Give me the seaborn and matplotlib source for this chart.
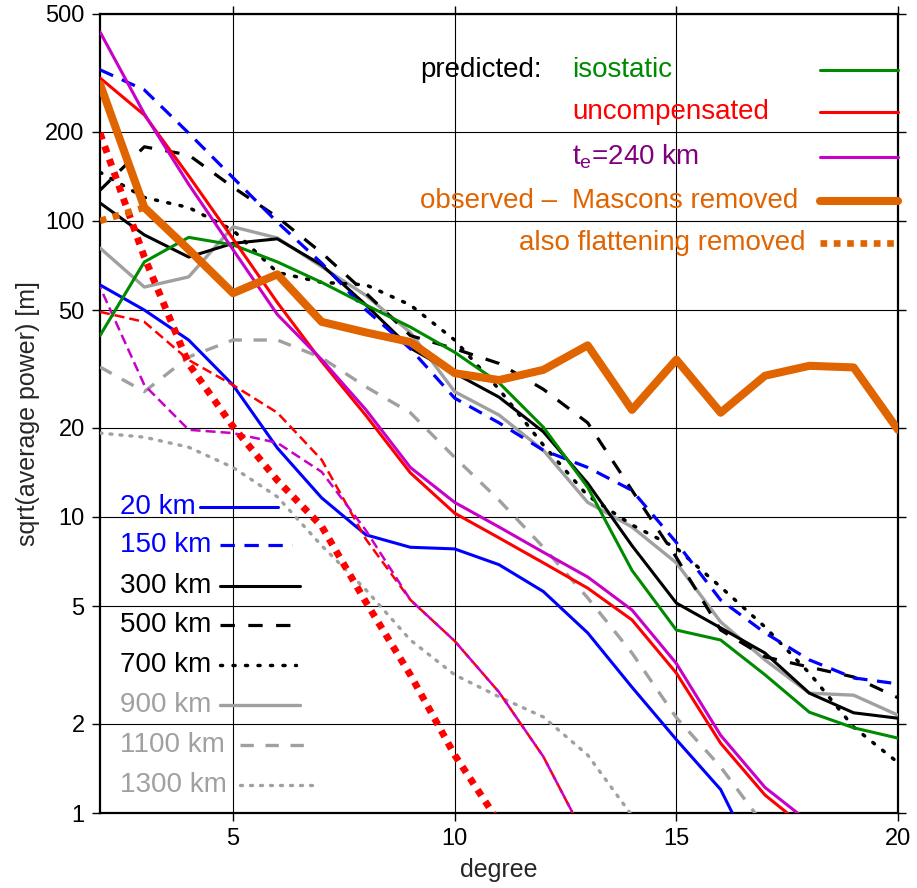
import numpy as np
import pandas as pd
import matplotlib.pyplot as plt
from matplotlib.lines import Line2D
from matplotlib.ticker import FixedLocator, NullLocator, FixedFormatter
import seaborn as sns

nan = np.nan
degree = list(range(2, 21))

# predicted, loading at depth (km)
blue_20 = [60.8, 50, 39.6, 27.9, 17.1, 11.6, 8.7, 7.9, 7.8, 6.9, 5.6, 4.06, 2.66, 1.77, 1.2, 0.6, nan, nan, nan]
blue_150 = [324, 277, 198, 140, 99, 72, 50, 37, 25.2, 20.8, 16.8, 14.7, 12.3, 8.2, 5.24, 4.06, 3.29, 2.86, 2.73]
black_300 = [115, 89.7, 75.5, 84, 87, 71, 52, 37.2, 30.6, 25.4, 19.4, 13, 8.0, 5.12, 4.22, 3.47, 2.54, 2.18, 2.09]
black_500 = [127, 178, 167, 130, 103, 78, 57, 41, 37, 33, 27, 20.8, 12.3, 7.3, 4.15, 3.37, 3.11, 2.88, 2.45]
black_700 = [146, 120, 111, 93, 67, 62, 60.8, 52, 39.6, 27, 17.5, 11.8, 9.4, 7.85, 5.8, 4.25, 2.97, 1.95, 1.48]
gray_900 = [81, 59.8, 64.7, 95.5, 87.6, 70, 56, 42, 26.5, 22.1, 16.8, 11.2, 9.25, 7.0, 4.42, 3.29, 2.54, 2.5, 2.14]
gray_1100 = [32.1, 26.5, 34.7, 39.6, 39.6, 34.5, 27.5, 22.5, 15.9, 11.4, 7.9, 5.33, 3.47, 2.1, 1.43, 0.9, nan, nan, nan]
gray_1300 = [19.2, 18.6, 17.2, 14.7, 11.7, 8.0, 5.67, 3.84, 2.93, 2.47, 2.11, 1.57, 0.98, 0.6, nan, nan, nan, nan, nan]

# predicted, compensation models
isostatic = [41, 72.7, 88, 83, 72.7, 62, 52, 43.8, 36, 28.4, 20.1, 12.6, 6.6, 4.15, 3.84, 2.93, 2.19, 1.94, 1.79]
uncompensated = [304, 228, 142, 87, 53, 33.5, 22, 14.1, 10.3, 8.5, 7.0, 5.75, 4.49, 2.97, 1.72, 1.15, 0.87, nan, nan]
te_240 = [435, 230, 133, 80, 48.3, 34, 23, 14.7, 11.2, 9.25, 7.6, 6.27, 4.85, 3.2, 1.83, 1.22, 0.93, nan, nan]
red_dashed = [49.3, 45.6, 33.9, 27.9, 22.5, 15.6, 8.4, 5.25, 3.81, 2.56, 1.55, 0.8, nan, nan, nan, nan, nan, nan, nan]
magenta_dashed = [59.8, 27.9, 19.7, 19.2, 17.8, 14.2, 9.0, 5.25, 3.81, 2.56, 1.55, 0.8, nan, nan, nan, nan, nan, nan, nan]
red_dotted = [198, 75.5, 32.9, 20.2, 13.3, 9.3, 5.15, 2.93, 1.57, 0.93, nan, nan, nan, nan, nan, nan, nan, nan, nan]

# observed
mascons_removed = [290, 111, 80, 57, 66, 45.6, 42, 39, 30.6, 29, 31.4, 38, 23, 34, 22.5, 30, 32.4, 32, 19.7]
flattening_removed = [100, 111, 80, 57, 66, 45.6, 42, 39, 30.6, 29, 31.4, 38, 23, 34, 22.5, 30, 32.4, 32, 19.7]

depth_labels = ['20 km', '150 km', '300 km', '500 km', '700 km', '900 km', '1100 km', '1300 km']

GREEN = '#008a00'
RED = '#ff0000'
MAGENTA = '#c800c8'
PURPLE = '#800080'
ORANGE = '#e06400'
GRAY = '#a0a0a0'
BLUE = '#0000ff'

sns.set_style('ticks')
plt.rcParams['font.family'] = ['Liberation Sans', 'DejaVu Sans']
plt.rcParams['mathtext.fontset'] = 'custom'
plt.rcParams['mathtext.rm'] = 'Liberation Sans'
plt.rcParams['mathtext.it'] = 'Liberation Sans'

fig = plt.figure(figsize=(9.17, 8.88), dpi=100)
ax = fig.add_axes([100 / 917, 75 / 888, 798 / 917, 799 / 888])
ax.set_yscale('log')

# style per series: (data, color, lw, linestyle, capstyle)
depth_styles = [
    (gray_1300, GRAY, 2.4, (0, (0.6, 2.4)), 'round'),
    (gray_1100, GRAY, 2.4, (0, (4, 3.5)), 'butt'),
    (gray_900, GRAY, 2.4, '-', 'butt'),
    (black_700, 'black', 2.5, (0, (0.6, 3.0)), 'round'),
    (black_500, 'black', 2.3, (0, (4.5, 4.2)), 'butt'),
    (black_300, 'black', 2.2, '-', 'butt'),
    (blue_150, BLUE, 2.3, (0, (4.5, 3.0)), 'butt'),
    (blue_20, BLUE, 2.2, '-', 'butt'),
]
model_styles = [
    (red_dashed, RED, 1.8, (0, (4, 2)), 'butt'),
    (magenta_dashed, MAGENTA, 1.8, (3, (4, 2)), 'butt'),
    (red_dotted, RED, 5.0, (0, (1, 1)), 'butt'),
    (isostatic, GREEN, 2.2, '-', 'butt'),
    (uncompensated, RED, 2.2, '-', 'butt'),
    (te_240, MAGENTA, 2.2, '-', 'butt'),
    (flattening_removed, ORANGE, 4.8, (0, (1, 1)), 'butt'),
    (mascons_removed, ORANGE, 5.8, '-', 'butt'),
]

for i, (vals, col, lw, ls, cap) in enumerate(depth_styles + model_styles):
    df = pd.DataFrame({'degree': degree, 'power': vals})
    sns.lineplot(data=df, x='degree', y='power', ax=ax, color=col, lw=lw,
                 linestyle=ls, dash_capstyle=cap, estimator=None, sort=False,
                 zorder=3 + i * 0.01)

ax.set_xlim(2, 20)
ax.set_ylim(1, 500)
ax.xaxis.set_major_locator(FixedLocator([5, 10, 15, 20]))
yt = [1, 2, 5, 10, 20, 50, 100, 200, 500]
ax.yaxis.set_major_locator(FixedLocator(yt))
ax.yaxis.set_major_formatter(FixedFormatter([str(v) for v in yt]))
ax.yaxis.set_minor_locator(NullLocator())
ax.xaxis.set_minor_locator(NullLocator())
ax.grid(True, which='major', color='black', lw=0.8, zorder=1)
ax.set_axisbelow(True)
ax.tick_params(which='major', direction='out', length=6, width=1,
               top=True, right=True, labelsize=17, pad=5, colors='black')
for s in ax.spines.values():
    s.set_linewidth(1.6)
    s.set_color('black')

ax.set_xlabel('degree', fontsize=18)
ax.set_ylabel('sqrt(average power) [m]', fontsize=18)
ax.xaxis.set_label_coords(0.5, -0.056)
ax.yaxis.set_label_coords(-0.075, 0.5)

# legend, upper right
T = ax.transAxes
fs = 20
rows = [0.930, 0.877, 0.821, 0.766, 0.713]
ax.text(0.401, rows[0], 'predicted:', transform=T, fontsize=fs, color='black', va='center')
ax.text(0.5915, rows[0], 'isostatic', transform=T, fontsize=fs, color=GREEN, va='center')
ax.text(0.5915, rows[1], 'uncompensated', transform=T, fontsize=fs, color=RED, va='center')
ax.text(0.5915, rows[2], r't$_{\rm e}$=240 km', transform=T, fontsize=fs, color=PURPLE, va='center')
ax.text(0.401, rows[3], 'observed \u2013', transform=T, fontsize=fs, color=ORANGE, va='center')
ax.text(0.5915, rows[3], 'Mascons removed', transform=T, fontsize=fs, color=ORANGE, va='center')
ax.text(0.8847, rows[4], 'also flattening removed', transform=T, fontsize=fs, color=ORANGE,
        va='center', ha='right')
top_keys = [(GREEN, 2.2, '-'), (RED, 2.2, '-'), (MAGENTA, 2.2, '-'),
            (ORANGE, 5.8, '-'), (ORANGE, 4.8, (0, (1, 1)))]
for y, (col, lw, ls) in zip(rows, top_keys):
    ax.add_line(Line2D([0.902, 1.0], [y, y], transform=T, color=col, lw=lw, ls=ls,
                       zorder=5, clip_on=False))

# legend, lower left
left_rows = [0.383, 0.335, 0.284, 0.235, 0.185, 0.135, 0.085, 0.035]
left_cols = [BLUE, BLUE, 'black', 'black', 'black', GRAY, GRAY, GRAY]
key_spans = [(0.125, 0.223), (0.150, 0.241), (0.150, 0.251), (0.150, 0.241),
             (0.150, 0.245), (0.150, 0.251), (0.175, 0.266), (0.175, 0.270)]
for lab, y, col, (x0, x1), (_, _, lw, ls, cap) in zip(depth_labels, left_rows, left_cols,
                                                        key_spans, depth_styles[::-1]):
    ax.text(0.025, y, lab, transform=T, fontsize=fs, color=col, va='center')
    ax.add_line(Line2D([x0, x1], [y, y], transform=T, color=col, lw=lw, ls=ls,
                       dash_capstyle=cap, zorder=5))

fig.savefig('out.png', dpi=100)
